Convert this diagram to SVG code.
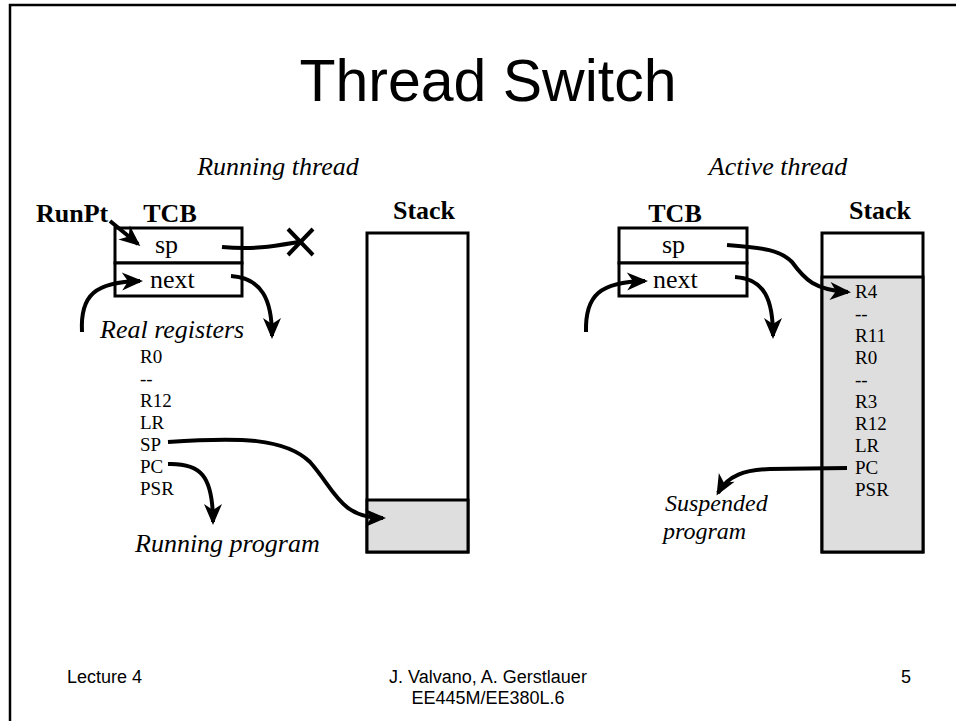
<svg xmlns="http://www.w3.org/2000/svg" width="956" height="721" viewBox="0 0 956 721">
  <style>
    .title { font-family: "Liberation Sans", Arial, sans-serif; font-size: 59px; fill: #000; }
    .foot { font-family: "Liberation Sans", Arial, sans-serif; font-size: 18px; fill: #000; }
    .ital { font-family: "Liberation Serif", "Times New Roman", serif; font-style: italic; font-size: 26px; fill: #000; }
    .ital2 { font-family: "Liberation Serif", "Times New Roman", serif; font-style: italic; font-size: 24px; fill: #000; }
    .bold { font-family: "Liberation Serif", "Times New Roman", serif; font-weight: bold; font-size: 26px; fill: #000; }
    .cell { font-family: "Liberation Serif", "Times New Roman", serif; font-size: 26px; fill: #000; }
    .reg { font-family: "Liberation Serif", "Times New Roman", serif; font-size: 19px; fill: #000; }
    .box { fill: #fff; stroke: #000; stroke-width: 3; }
    .shade { fill: #dedede; stroke: #000; stroke-width: 3; }
    .wire { fill: none; stroke: #000; stroke-width: 4; stroke-linecap: butt; }
  </style>
  <defs>
    <marker id="head" markerUnits="userSpaceOnUse" markerWidth="26" markerHeight="22" viewBox="-2 -11 26 22" refX="18" refY="0" orient="auto">
      <path d="M0,-9 L21,0 L0,9 L6,0 z" fill="#000"/>
    </marker>
  </defs>

  <rect width="956" height="721" fill="#fff"/>
  <!-- slide frame -->
  <path d="M10,721 L10,5 L956,5" fill="none" stroke="#000" stroke-width="2.5"/>

  <text class="title" x="488" y="101" text-anchor="middle">Thread Switch</text>

  <!-- running thread side -->
  <g id="running-label"><text class="ital" x="278" y="175" text-anchor="middle">Running thread</text></g>
  <g id="runpt"><text class="bold" x="36" y="222">RunPt</text></g>
  <g id="tcb-running">
    <text class="bold" x="170" y="222" text-anchor="middle">TCB</text>
    <rect class="box" x="115" y="228" width="127" height="35"/>
    <rect class="box" x="115" y="263" width="127" height="33"/>
    <text class="cell" x="155" y="253">sp</text>
    <text class="cell" x="150" y="288">next</text>
  </g>
  <g id="stack-running">
    <text class="bold" x="424" y="219" text-anchor="middle">Stack</text>
    <rect class="box" x="367" y="233" width="101" height="319"/>
    <rect class="shade" x="367" y="500" width="101" height="52"/>
  </g>
  <g id="real-registers">
    <text class="ital" x="100" y="338">Real registers</text>
    <text class="reg" x="140" y="363">R0</text>
    <text class="reg" x="140" y="385">--</text>
    <text class="reg" x="140" y="407">R12</text>
    <text class="reg" x="140" y="429">LR</text>
    <text class="reg" x="140" y="451">SP</text>
    <text class="reg" x="140" y="473">PC</text>
    <text class="reg" x="140" y="495">PSR</text>
  </g>
  <g id="running-program"><text class="ital" x="135" y="552">Running program</text></g>
  <g id="discard-mark">
    <path d="M288,229 L313,255 M313,229 L288,255" stroke="#000" stroke-width="4" fill="none"/>
  </g>

  <!-- active thread side -->
  <g id="active-label"><text class="ital" x="778" y="175" text-anchor="middle">Active thread</text></g>
  <g id="tcb-active">
    <text class="bold" x="675" y="222" text-anchor="middle">TCB</text>
    <rect class="box" x="619" y="228" width="128" height="35"/>
    <rect class="box" x="619" y="263" width="128" height="33"/>
    <text class="cell" x="662" y="253">sp</text>
    <text class="cell" x="653" y="288">next</text>
  </g>
  <g id="stack-active">
    <text class="bold" x="880" y="219" text-anchor="middle">Stack</text>
    <rect class="box" x="822" y="233" width="101" height="319"/>
    <rect class="shade" x="822" y="277" width="101" height="275"/>
    <text class="reg" x="855" y="298">R4</text>
    <text class="reg" x="855" y="320">--</text>
    <text class="reg" x="855" y="342">R11</text>
    <text class="reg" x="855" y="364">R0</text>
    <text class="reg" x="855" y="386">--</text>
    <text class="reg" x="855" y="408">R3</text>
    <text class="reg" x="855" y="430">R12</text>
    <text class="reg" x="855" y="452">LR</text>
    <text class="reg" x="855" y="474">PC</text>
    <text class="reg" x="855" y="496">PSR</text>
  </g>
  <g id="suspended-program">
    <text class="ital2" x="665" y="511">Suspended</text>
    <text class="ital2" x="663" y="539">program</text>
  </g>

  <!-- connectors -->
  <g id="connectors">
    <path class="wire" d="M110,221 L138,244" marker-end="url(#head)"/>
    <path class="wire" d="M222,247 C255,250 275,246 299,242"/>
    <path class="wire" d="M82,332 C80,295 95,282 140,281" marker-end="url(#head)"/>
    <path class="wire" d="M231,276 C262,278 272,300 272,336" marker-end="url(#head)"/>
    <path class="wire" d="M168,442 C240,437 285,438 310,462 C335,490 340,518 383,518" marker-end="url(#head)"/>
    <path class="wire" d="M168,464 C200,463 213,475 213,522" marker-end="url(#head)"/>

    <path class="wire" d="M727,245 C765,248 780,250 792,262 C805,280 815,290 848,292" marker-end="url(#head)"/>
    <path class="wire" d="M586,332 C585,295 600,282 645,281" marker-end="url(#head)"/>
    <path class="wire" d="M735,277 C765,279 773,300 773,336" marker-end="url(#head)"/>
    <path class="wire" d="M847,468 L770,469 C745,470 728,475 718,493" marker-end="url(#head)"/>
  </g>

  <!-- footer -->
  <text class="foot" x="67" y="683">Lecture 4</text>
  <text class="foot" x="488" y="683" text-anchor="middle">J. Valvano, A. Gerstlauer</text>
  <text class="foot" x="488" y="704" text-anchor="middle">EE445M/EE380L.6</text>
  <text class="foot" x="906" y="683" text-anchor="middle">5</text>
</svg>
